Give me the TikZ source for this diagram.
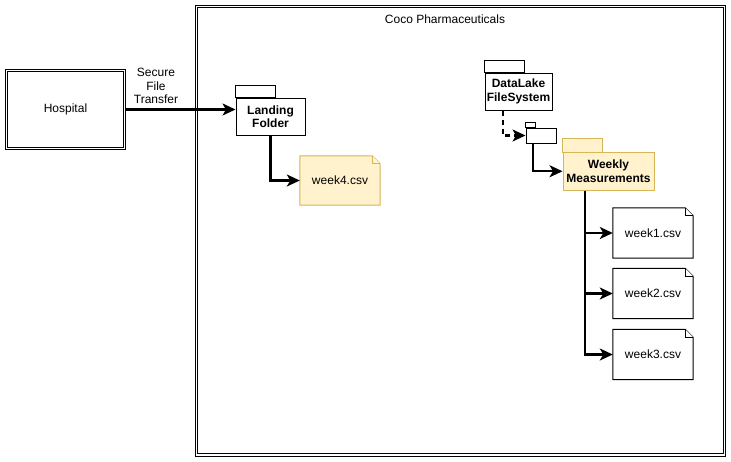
\documentclass[tikz,border=0pt]{standalone}
\usepackage{fontspec}
\setmainfont{Liberation Sans}
\usetikzlibrary{arrows.meta}
\definecolor{noteFill}{HTML}{FFF2CC}
\definecolor{noteLine}{HTML}{D6B656}
\newcommand{\drawnote}[2]{%
  \draw[#2] (#1.north west) -- ([xshift=-8pt]#1.north east) -- ([yshift=-8pt]#1.north east) -- (#1.south east) -- (#1.south west) -- cycle;
  \draw[#2] ([xshift=-8pt]#1.north east) -- ([xshift=-8pt,yshift=-8pt]#1.north east) -- ([yshift=-8pt]#1.north east);}
\newcommand{\innerframe}[1]{%
  \draw[line width=1pt] ([xshift=2.6pt,yshift=-2.6pt]#1.north west) rectangle ([xshift=-2.6pt,yshift=2.6pt]#1.south east);}
\tikzset{
  dbl/.style={draw, line width=1pt, inner sep=0pt},
  pkgbody/.style={draw, line width=1pt, rectangle, inner sep=0pt, align=center,
    font=\bfseries\fontsize{12}{13.5}\selectfont},
  pkgtab/.style={draw, line width=1pt},
  yel/.style={fill=noteFill, draw=noteLine},
  notebox/.style={inner sep=0pt, minimum width=80pt, minimum height=50pt,
    font=\fontsize{12}{13.5}\selectfont},
  noteplain/.style={draw=black, fill=white, line width=1pt},
  noteyel/.style={draw=noteLine, fill=noteFill, line width=1pt},
  conn/.style={line width=2.1pt, arrows={-Stealth[length=13pt,width=12pt,inset=3.5pt]}},
  lbl/.style={font=\fontsize{12}{13.5}\selectfont, align=center}
}
\begin{document}
\begin{tikzpicture}[x=1pt,y=-1pt]
\useasboundingbox (0,0) rectangle (731,461);
% frames
\node[dbl, minimum width=530pt, minimum height=451pt] (coco) at (460.5,230.5) {};
\innerframe{coco}
\node[lbl, anchor=center] (cocolbl) at (445,19) {Coco Pharmaceuticals};
\node[dbl, minimum width=120pt, minimum height=80pt, lbl] (hospital) at (65.5,109.5) {Hospital};
\innerframe{hospital}
% packages
\node[pkgbody, minimum width=69pt, minimum height=37pt] (landing) at (270.5,116.5) {Landing\\Folder};
\draw[pkgtab] (landing.north west) rectangle ++(40,-12);
\node[pkgbody, minimum width=67pt, minimum height=37pt] (datalake) at (518.5,91.5) {DataLake\\FileSystem};
\draw[pkgtab] (datalake.north west) rectangle ++(40,-12);
\node[pkgbody, minimum width=30pt, minimum height=15pt] (small) at (541,135.5) {};
\draw[pkgtab] (small.north west) rectangle ++(10,-5);
\node[pkgbody, yel, minimum width=91pt, minimum height=37.5pt] (weekly) at (608.5,171.25) {Weekly\\Measurements};
\draw[pkgtab, yel] (weekly.north west) rectangle ++(40,-14);
% notes
\node[notebox, minimum height=49pt] (w4) at (340,180.5) {};
\drawnote{w4}{noteyel}
\node[notebox] at (w4) {week4.csv};
\node[notebox] (w1) at (653,233) {};
\drawnote{w1}{noteplain}
\node[notebox] at (w1) {week1.csv};
\node[notebox] (w2) at (653,293.5) {};
\drawnote{w2}{noteplain}
\node[notebox] at (w2) {week2.csv};
\node[notebox] (w3) at (653,354.5) {};
\drawnote{w3}{noteplain}
\node[notebox] at (w3) {week3.csv};
% connectors
\draw[conn] (hospital.east) -- (hospital.east -| landing.west);
\node[lbl] (sft) at (156,86) {Secure\\File\\Transfer};
\draw[conn] (landing.south) |- (w4.west);
\draw[conn, dash pattern=on 5pt off 4pt] ([xshift=-15.5pt]datalake.south) |- (small.west);
\draw[conn] ([xshift=-8pt]small.south) |- (weekly.west);
\draw[conn] ([xshift=-23.5pt]weekly.south) |- (w1.west);
\draw[conn] ([xshift=-23.5pt]weekly.south) |- (w2.west);
\draw[conn] ([xshift=-23.5pt]weekly.south) |- (w3.west);
\end{tikzpicture}
\end{document}
